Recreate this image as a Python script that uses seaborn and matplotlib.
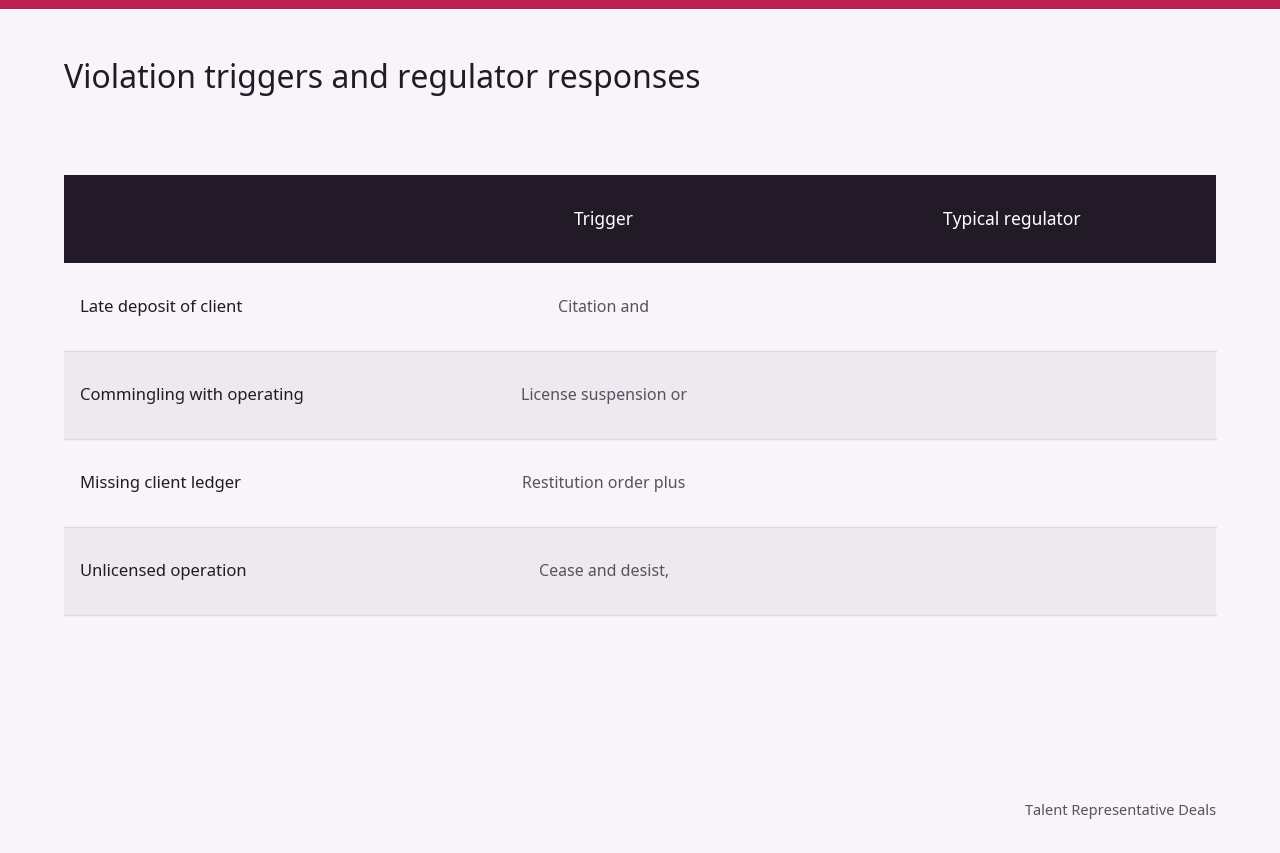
import seaborn as sns
import matplotlib.pyplot as plt

title = "Violation triggers and regulator responses"
headers = ["", "Trigger", "Typical regulator"]
violations = ["Late deposit of client", "Commingling with operating",
              "Missing client ledger", "Unlicensed operation"]
triggers = ["Citation and", "License suspension or",
            "Restitution order plus", "Cease and desist,"]
regulators = ["", "", "", ""]
footer = "Talent Representative Deals"

sns.set_theme(style="white")
plt.rcParams["font.family"] = ["Noto Sans", "DejaVu Sans"]

bg = "#f7f5f9"
fig = plt.figure(figsize=(12.8, 8.54), dpi=100, facecolor=bg)
ax = fig.add_axes([0, 0, 1, 1])
ax.set_xlim(0, 1280)
ax.set_ylim(854, 0)
ax.set_facecolor(bg)
ax.axis("off")

# accent bar on top
ax.axhspan(0, 10, color="#bd1f52", lw=0)

ax.text(64, 80, title, fontsize=23, color="#221a26", va="center", ha="left")

left, right = 64, 1216
col_x = [80, 604, 1012]
head_top, head_h, row_h = 176, 88, 88

ax.fill_between([left, right], head_top, head_top + head_h, color="#221a26", lw=0)
for i, h in enumerate(headers):
    if h:
        ax.text(col_x[i], head_top + head_h / 2, h, color="white",
                fontsize=12.5, ha="center", va="center")

for r, (v, t, g) in enumerate(zip(violations, triggers, regulators)):
    y0 = head_top + head_h + r * row_h
    if r % 2 == 1:
        ax.fill_between([left, right], y0, y0 + row_h, color="#eceaef", lw=0)
    ax.plot([left, right], [y0 + row_h, y0 + row_h], color="#dcd9df", lw=1)
    yc = y0 + row_h / 2
    ax.text(col_x[0], yc, v, fontsize=12, color="#221a26", ha="left", va="center")
    ax.text(col_x[1], yc, t, fontsize=11.5, color="#5a5060", ha="center", va="center")
    ax.text(col_x[2], yc, g, fontsize=11.5, color="#5a5060", ha="center", va="center")

ax.text(right, 812, footer, fontsize=10.5, color="#5a5060", ha="right", va="center")

fig.savefig("out.png", dpi=100, facecolor=bg)
